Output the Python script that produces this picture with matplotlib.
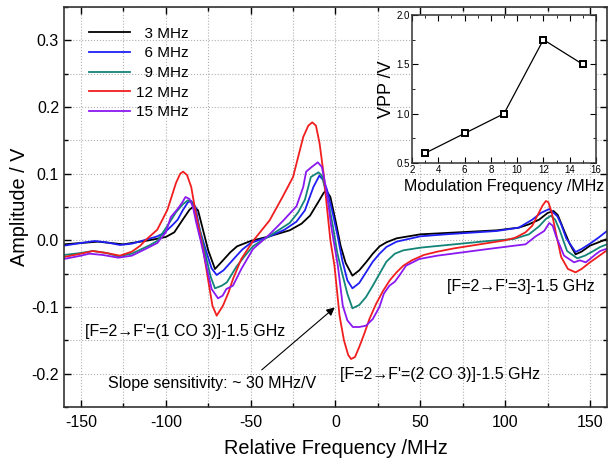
import numpy as np
import matplotlib
matplotlib.use('Agg')
import matplotlib.pyplot as plt
from matplotlib.ticker import MultipleLocator

plt.rcParams['font.family'] = ['Liberation Sans', 'DejaVu Sans']
plt.rcParams['axes.unicode_minus'] = False

# ---- data ----
labels = ['  3 MHz', '  6 MHz', '  9 MHz', '12 MHz', '15 MHz']
colors = ['#000000', '#1f1ff5', '#138478', '#f01e1e', '#8a18f0']

f3_x = [-160, -150, -140, -125, -110, -100, -95, -90, -86, -83.5, -81, -78.5, -75, -71, -67, -62, -58, -50,
        -39, -27, -20, -15, -10, -7, -5.5, -3, 0, 3, 6, 10, 14, 18, 22, 26, 30, 36, 50, 65, 80, 95,
        108, 114, 120, 125, 128.5, 131, 134.5, 138, 141.5, 145, 150, 155, 160]
f3_y = [-0.006, -0.004, -0.002, -0.006, 0.0, 0.005, 0.012, 0.031, 0.046, 0.051, 0.045, 0.02, -0.015, -0.043,
        -0.032, -0.018, -0.009, -0.001, 0.006, 0.015, 0.025, 0.037, 0.058, 0.071, 0.075, 0.065, 0.03, -0.008,
        -0.034, -0.053, -0.045, -0.033, -0.02, -0.009, -0.003, 0.003, 0.009, 0.011, 0.013, 0.015,
        0.019, 0.024, 0.031, 0.041, 0.044, 0.038, 0.016, -0.005, -0.021, -0.017, -0.008, -0.003, 0.002]

f6_x = [-160, -150, -142, -135, -127, -120, -113, -105, -101, -96, -93, -90, -87, -85, -82.5, -80, -76, -73,
        -70, -66, -60, -55, -50, -39, -30, -23, -18, -13, -9.5, -7, -5, -2, 1, 4, 7, 10, 14, 18, 22, 26,
        30, 36, 50, 65, 80, 95, 108, 116, 121, 126, 130.8, 133, 136, 141.5, 145, 150, 155, 160]
f6_y = [-0.008, -0.004, -0.001, -0.003, -0.007, -0.005, 0.0, 0.006, 0.011, 0.023, 0.031, 0.045, 0.057, 0.059,
        0.05, 0.016, -0.018, -0.042, -0.052, -0.045, -0.028, -0.014, -0.004, 0.0055, 0.016, 0.028, 0.045,
        0.08, 0.097, 0.09, 0.076, 0.045, 0.01, -0.03, -0.06, -0.072, -0.064, -0.048, -0.032, -0.02,
        -0.01, -0.002, 0.006, 0.009, 0.0115, 0.014, 0.019, 0.031, 0.041, 0.047, 0.036, 0.024, 0.003,
        -0.0175, -0.013, -0.005, 0.004, 0.014]

f9_x = [-160, -150, -143, -135, -128, -120, -115, -110, -105, -99, -94, -90, -87, -85, -83, -81, -78.5, -76,
        -73.5, -71, -67, -64, -58.5, -53, -48.5, -39, -27, -22, -18, -14.5, -10, -8, -6.5, -4, -1.5, 1,
        3.5, 7, 10, 14, 18, 22, 26, 30, 35, 40, 50, 70, 90, 105, 114, 120, 124, 127, 129.5, 132, 136.5,
        142.5, 147, 152, 156, 160]
f9_y = [-0.022, -0.019, -0.016, -0.019, -0.024, -0.02, -0.014, -0.008, -0.001, 0.022, 0.042, 0.054, 0.06,
        0.058, 0.048, 0.026, 0.0, -0.028, -0.055, -0.072, -0.068, -0.063, -0.04, -0.022, -0.0085, 0.0064,
        0.026, 0.042, 0.061, 0.095, 0.102, 0.097, 0.081, 0.055, 0.021, -0.018, -0.045, -0.08, -0.102,
        -0.097, -0.085, -0.068, -0.05, -0.032, -0.02, -0.015, -0.011, -0.006, -0.001, 0.002, 0.009, 0.021,
        0.032, 0.037, 0.031, 0.016, -0.016, -0.027, -0.023, -0.016, -0.01, -0.006]

f12_x = [-160, -150, -143, -135, -127, -120, -115, -112, -105, -99, -94, -91.5, -89.8, -87.5, -85, -82, -80,
         -78, -75, -72.5, -70, -66.3, -63, -60.4, -55.5, -48.6, -38.8, -31, -25, -19, -16, -13.7, -11.5,
         -9.4, -7, -5.5, -3, -0.6, 2.4, 5, 7.5, 9.2, 11.5, 14, 17, 20, 24, 28, 32, 36, 40, 45, 52, 60, 70,
         80, 90, 100, 106, 112, 116, 119, 122, 124, 125.5, 127.5, 130, 133, 137, 141.5, 145, 150, 155, 160]
f12_y = [-0.025, -0.02, -0.016, -0.019, -0.023, -0.017, -0.008, 0.0, 0.016, 0.046, 0.086, 0.1, 0.103, 0.098,
         0.08, 0.036, 0.012, -0.013, -0.06, -0.098, -0.113, -0.098, -0.078, -0.058, -0.028, -0.001, 0.03,
         0.066, 0.095, 0.155, 0.172, 0.177, 0.172, 0.146, 0.1, 0.061, 0.0, -0.038, -0.113, -0.15, -0.172,
         -0.178, -0.175, -0.16, -0.14, -0.118, -0.095, -0.076, -0.06, -0.048, -0.038, -0.03, -0.022, -0.017,
         -0.012, -0.008, -0.004, 0.0, 0.004, 0.012, 0.022, 0.037, 0.052, 0.059, 0.057, 0.041, 0.01, -0.025,
         -0.043, -0.048, -0.043, -0.033, -0.024, -0.015]

f15_x = [-160, -150, -145, -137, -128, -120, -112, -105, -100, -97, -93, -90, -88.4, -86, -84, -82, -79.5,
         -77, -73, -69.2, -66.5, -64.3, -60.4, -55.5, -48.6, -38.8, -31, -23, -19, -17.3, -14, -10.4, -8,
         -6.5, -4.5, -2.5, 1.4, 4.3, 7, 10.2, 14, 18, 22, 25.9, 28.5, 31.8, 35, 37.6, 41.6, 49.4, 60, 75,
         90, 104, 112, 118, 123, 126, 128, 130, 134.7, 140.6, 144, 147.5, 150, 153.3, 156, 160]
f15_y = [-0.028, -0.023, -0.02, -0.022, -0.026, -0.023, -0.013, -0.004, 0.012, 0.035, 0.047, 0.058, 0.065,
         0.062, 0.05, 0.026, 0.0, -0.028, -0.073, -0.087, -0.083, -0.073, -0.068, -0.043, -0.013, 0.009,
         0.029, 0.051, 0.08, 0.103, 0.11, 0.117, 0.11, 0.091, 0.06, 0.021, -0.038, -0.098, -0.12, -0.13,
         -0.13, -0.128, -0.118, -0.1, -0.08, -0.068, -0.062, -0.053, -0.038, -0.028, -0.023, -0.018, -0.013,
         -0.0085, -0.006, 0.006, 0.014, 0.026, 0.022, 0.006, -0.023, -0.033, -0.03, -0.033, -0.028, -0.021,
         -0.016, -0.0125]

mod_freq = [3, 6, 9, 12, 15]
vpp = [0.6, 0.8, 1.0, 1.75, 1.5]

xs = [f3_x, f6_x, f9_x, f12_x, f15_x]
ys = [f3_y, f6_y, f9_y, f12_y, f15_y]

fig = plt.figure(figsize=(6.11, 4.66), dpi=100)
ax = fig.add_axes([0.1047, 0.1266, 0.8887, 0.8584])

for x, y, c, lab in zip(xs, ys, colors, labels):
    ax.plot(x, y, color=c, lw=1.3, label=lab)

ax.set_xlim(-160, 160)
ax.set_ylim(-0.25, 0.35)
ax.xaxis.set_major_locator(MultipleLocator(50))
ax.xaxis.set_minor_locator(MultipleLocator(25))
ax.yaxis.set_major_locator(MultipleLocator(0.1))
ax.yaxis.set_minor_locator(MultipleLocator(0.05))
ax.yaxis.set_major_formatter(plt.FormatStrFormatter('%.1f'))
ax.tick_params(which='both', direction='in', top=True, right=True, labelsize=11.5)
ax.tick_params(axis='x', pad=6)
ax.tick_params(which='major', length=5, width=1)
ax.tick_params(which='minor', length=3, width=1)
ax.grid(which='both', color='#b0b0b0', ls=':', lw=0.8)
for s in ax.spines.values():
    s.set_linewidth(1.2)
    s.set_color('#333333')
ax.set_xlabel('Relative Frequency /MHz', fontsize=14.3, labelpad=6)
ax.set_ylabel('Amplitude / V', fontsize=14.3, labelpad=2)

ax.legend(loc='upper left', bbox_to_anchor=(0.02, 0.985), frameon=False, fontsize=11,
          handlelength=2.7, handletextpad=0.4, labelspacing=0.37)

ax.text(-147.5, -0.137, "[F=2\u2192F'=(1 CO 3)]-1.5 GHz", fontsize=11.5, va='center')
ax.text(-134, -0.215, "Slope sensitivity: ~ 30 MHz/V", fontsize=11.5, va='center')
ax.text(2.4, -0.201, "[F=2\u2192F'=(2 CO 3)]-1.5 GHz", fontsize=11.5, va='center')
ax.text(66, -0.069, "[F=2\u2192F'=3]-1.5 GHz", fontsize=11.5, va='center')
ax.annotate('', xy=(0.8, -0.098), xytext=(-44.7, -0.197),
            arrowprops=dict(arrowstyle='-|>', color='black', lw=0.8, mutation_scale=12))

# inset
ins = fig.add_axes([0.6743, 0.6502, 0.3011, 0.3176])
ins.plot(mod_freq, vpp, color='black', lw=0.9, marker='s', ms=5, mfc='white', mec='black', mew=1.4)
ins.set_xlim(2, 16)
ins.set_ylim(0.5, 2.0)
ins.xaxis.set_major_locator(MultipleLocator(2))
ins.xaxis.set_minor_locator(MultipleLocator(1))
ins.yaxis.set_major_locator(MultipleLocator(0.5))
ins.yaxis.set_minor_locator(MultipleLocator(0.25))
ins.yaxis.set_major_formatter(plt.FormatStrFormatter('%.1f'))
ins.tick_params(which='both', direction='in', top=True, right=True, labelsize=7, pad=1.5)
ins.tick_params(which='major', length=4)
ins.tick_params(which='minor', length=2)
for s in ins.spines.values():
    s.set_linewidth(1.1)
    s.set_color('#333333')
ins.set_xlabel('Modulation Frequency /MHz', fontsize=11.5, labelpad=3)
ins.set_ylabel('VPP /V', fontsize=13, labelpad=1)

fig.savefig('out.png', dpi=100)
